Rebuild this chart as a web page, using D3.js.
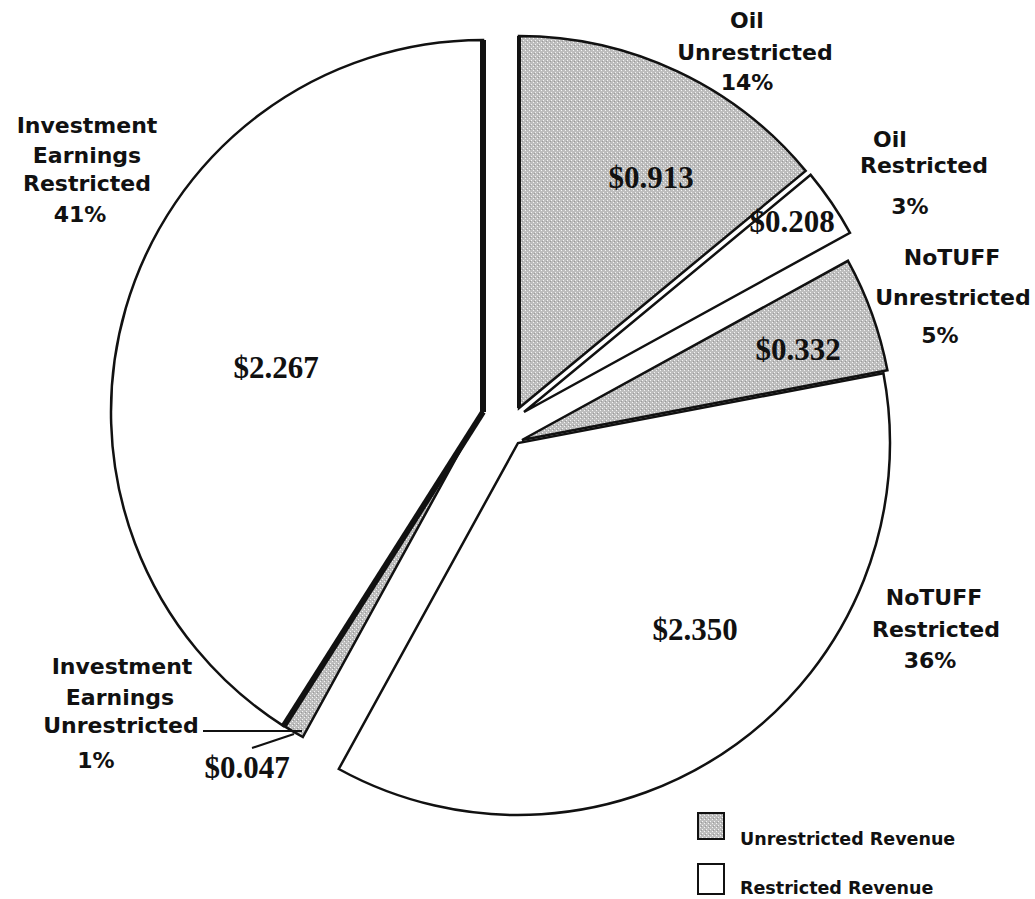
<!DOCTYPE html>
<html>
<head>
<meta charset="utf-8">
<script src="https://cdn.jsdelivr.net/npm/d3@7"></script>
<style>
  body { margin: 0; background: #fff; }
  .cat { font-family: "DejaVu Sans", sans-serif; font-weight: bold; font-size: 22px; fill: #111; }
  .amt { font-family: "Liberation Serif", "Times New Roman", serif; font-weight: bold; font-size: 31px; fill: #111; }
  .leg { font-family: "DejaVu Sans", sans-serif; font-weight: bold; font-size: 17.5px; fill: #111; }
</style>
</head>
<body>
<div class="chart"></div>
<script>

// data
const categories = ["Oil Unrestricted", "Oil Restricted", "NoTUFF Unrestricted",
                    "NoTUFF Restricted", "Investment Earnings Unrestricted", "Investment Earnings Restricted"];
const categoryLines = [["Oil", "Unrestricted"], ["Oil", "Restricted"], ["NoTUFF", "Unrestricted"],
                       ["NoTUFF", "Restricted"], ["Investment", "Earnings", "Unrestricted"],
                       ["Investment", "Earnings", "Restricted"]];
const percents = [14, 3, 5, 36, 1, 41];
const amounts = [0.913, 0.208, 0.332, 2.350, 0.047, 2.267];
const revenueType = ["Unrestricted", "Restricted", "Unrestricted", "Restricted", "Unrestricted", "Restricted"];
const legendLabels = ["Unrestricted Revenue", "Restricted Revenue"];

// layout
const w = 1035, h = 899;
const cx = 500, cy = 425, radius = 372;
const explode = [[19, -17], [24, -13], [22, 15], [18, 18], [-18, -14], [-17, -13]];
const edgeWidth = [[4, 2.5], [2.5, 2.5], [2.5, 2.5], [2.5, 2.5], [2.5, 2.5], [6, 6]];   // [start edge, end edge]
const labelPos = [
    [[747, 28], [755, 60], [747, 90]],
    [[890, 147], [924, 173], [910, 214]],
    [[952, 265], [953, 305], [940, 343]],
    [[934, 605], [936, 637], [930, 668]],
    [[122, 674], [120, 705], [121, 733], [96, 768]],
    [[87, 133], [87, 163], [87, 191], [80, 222]]
];
const amountPos = [[651, 188], [792, 232], [798, 360], [695, 640], [247, 778], [276, 378]];

const svg = d3.select(".chart")
    .append("svg")
    .attr("width", w)
    .attr("height", h);

// stippled grey fill
const pat = svg.append("defs").append("pattern")
    .attr("id", "stipple")
    .attr("width", 4).attr("height", 4)
    .attr("patternUnits", "userSpaceOnUse");
pat.append("rect").attr("width", 4).attr("height", 4).attr("fill", "#bdbdbd");
pat.append("rect").attr("x", 0).attr("y", 0).attr("width", 1).attr("height", 1).attr("fill", "#f4f4f4");
pat.append("rect").attr("x", 2).attr("y", 2).attr("width", 1).attr("height", 1).attr("fill", "#f4f4f4");
pat.append("rect").attr("x", 3).attr("y", 1).attr("width", 1).attr("height", 1).attr("fill", "#9a9a9a");

const color = d3.scaleOrdinal()
    .domain(["Unrestricted", "Restricted"])
    .range(["url(#stipple)", "#fff"]);

const pie = d3.pie().sort(null).value(d => d);
const arcs = pie(percents);

const arc = d3.arc()
    .innerRadius(0)
    .outerRadius(radius);

const slices = svg.selectAll(".slice")
    .data(arcs)
    .enter()
    .append("g")
    .attr("class", "slice")
    .attr("transform", d => `translate(${cx + explode[d.index][0]},${cy + explode[d.index][1]})`);

slices.append("path")
    .attr("d", arc)
    .attr("fill", d => color(revenueType[d.index]))
    .attr("stroke", "#111")
    .attr("stroke-width", 2.5)
    .attr("stroke-linejoin", "miter");

// heavier radial edges, as in the print
slices.each(function(d) {
    const g = d3.select(this);
    [d.startAngle, d.endAngle].forEach((a, k) => {
        const sw = edgeWidth[d.index][k];
        if (sw <= 2.5) return;
        g.append("line")
            .attr("x1", 0).attr("y1", 0)
            .attr("x2", radius * Math.sin(a))
            .attr("y2", -radius * Math.cos(a))
            .attr("stroke", "#111")
            .attr("stroke-width", sw);
    });
});

// category labels
const labels = svg.selectAll(".cat-label")
    .data(arcs)
    .enter()
    .append("g")
    .attr("class", "cat-label");

labels.each(function(d) {
    const lines = categoryLines[d.index].concat([percents[d.index] + "%"]);
    d3.select(this).selectAll("text")
        .data(lines)
        .enter()
        .append("text")
        .attr("class", "cat")
        .attr("text-anchor", "middle")
        .attr("x", (t, i) => labelPos[d.index][i][0])
        .attr("y", (t, i) => labelPos[d.index][i][1])
        .text(t => t);
});

// dollar amounts
svg.selectAll(".amt")
    .data(arcs)
    .enter()
    .append("text")
    .attr("class", "amt")
    .attr("text-anchor", "middle")
    .attr("x", d => amountPos[d.index][0])
    .attr("y", d => amountPos[d.index][1])
    .text(d => d3.format("$.3f")(amounts[d.index]));

// leader lines for the small investment slice
svg.append("line")
    .attr("x1", 203).attr("y1", 731).attr("x2", 302).attr("y2", 731)
    .attr("stroke", "#111").attr("stroke-width", 2);
svg.append("line")
    .attr("x1", 252).attr("y1", 748).attr("x2", 294).attr("y2", 734)
    .attr("stroke", "#111").attr("stroke-width", 2);

// legend
const legend = svg.selectAll(".legend")
    .data(legendLabels)
    .enter()
    .append("g")
    .attr("class", "legend")
    .attr("transform", (d, i) => `translate(698,${813 + i * 51})`);

legend.append("rect")
    .attr("width", 26)
    .attr("height", (d, i) => i ? 30 : 26)
    .attr("fill", d => color(d.split(" ")[0]))
    .attr("stroke", "#111")
    .attr("stroke-width", 2);

legend.append("text")
    .attr("class", "leg")
    .attr("x", 42)
    .attr("y", (d, i) => i ? 30 : 32)
    .text(d => d);

</script>
</body>
</html>
